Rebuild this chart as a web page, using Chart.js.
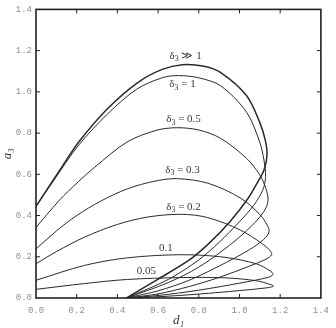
<!DOCTYPE html>
<html>
<head>
<meta charset="utf-8">
<script src="https://cdn.jsdelivr.net/npm/chart.js@4"></script>
<style>
  body { margin: 0; background: #fff; }
  #caixa { width: 336px; height: 328px; }
</style>
</head>
<body>
<div id="caixa"><canvas id="grafico" width="336" height="328"></canvas></div>
<script>
// curvas: d1 (x) e a3 (y), cada uma um laço fechado
const dMuito = [0, 0.08, 0.13, 0.21, 0.35, 0.5, 0.62, 0.72, 0.82, 0.908, 1.035, 1.099, 1.128, 1.135, 1.12, 1.085, 1.04, 0.956, 0.85, 0.75, 0.59, 0.445];
const aMuito = [0.445, 0.565, 0.64, 0.757, 0.917, 1.045, 1.109, 1.132, 1.125, 1.093, 0.981, 0.853, 0.76, 0.69, 0.62, 0.555, 0.48, 0.374, 0.265, 0.182, 0.086, 0];

const dUm = [0, 0.08, 0.21, 0.352, 0.495, 0.622, 0.7, 0.8, 0.908, 1.035, 1.099, 1.12, 1.128, 1.115, 1.07, 1.0, 0.9, 0.8, 0.65, 0.445];
const aUm = [0.445, 0.56, 0.742, 0.893, 1.013, 1.069, 1.079, 1.068, 1.029, 0.901, 0.757, 0.67, 0.59, 0.525, 0.45, 0.37, 0.27, 0.185, 0.09, 0];

const dMeio = [0, 0.111, 0.21, 0.289, 0.448, 0.59, 0.69, 0.8, 0.908, 1.035, 1.099, 1.13, 1.14, 1.12, 1.06, 0.95, 0.8, 0.65, 0.445];
const aMeio = [0.342, 0.47, 0.566, 0.635, 0.757, 0.813, 0.826, 0.815, 0.774, 0.677, 0.598, 0.53, 0.47, 0.42, 0.35, 0.255, 0.15, 0.075, 0];

const d03 = [0, 0.1, 0.2, 0.318, 0.45, 0.58, 0.69, 0.844, 1.003, 1.099, 1.138, 1.145, 1.12, 1.05, 0.9, 0.75, 0.6, 0.445];
const a03 = [0.238, 0.325, 0.4, 0.47, 0.53, 0.566, 0.579, 0.557, 0.486, 0.406, 0.35, 0.32, 0.285, 0.235, 0.155, 0.085, 0.035, 0];

const d02 = [0, 0.1, 0.238, 0.4, 0.55, 0.714, 0.844, 1.003, 1.114, 1.15, 1.158, 1.13, 1.05, 0.9, 0.75, 0.6, 0.445];
const a02 = [0.166, 0.225, 0.295, 0.357, 0.393, 0.406, 0.39, 0.33, 0.262, 0.23, 0.21, 0.188, 0.155, 0.1, 0.055, 0.02, 0];

const d01 = [0, 0.238, 0.45, 0.714, 0.924, 1.082, 1.15, 1.165, 1.14, 1.0, 0.8, 0.6, 0.445];
const a01 = [0.086, 0.158, 0.195, 0.21, 0.198, 0.166, 0.132, 0.115, 0.1, 0.072, 0.038, 0.012, 0];

const d005 = [0, 0.238, 0.45, 0.714, 0.924, 1.082, 1.15, 1.167, 1.14, 1.0, 0.8, 0.6, 0.445];
const a005 = [0.042, 0.07, 0.09, 0.099, 0.098, 0.084, 0.066, 0.058, 0.05, 0.036, 0.019, 0.006, 0];

// rótulos das curvas: texto antes do índice, índice, resto
const rotulos = [
  { base: "δ", sub: "3", resto: " ≫ 1", d: 0.735, a: 1.172 },
  { base: "δ", sub: "3", resto: " = 1", d: 0.72, a: 1.036 },
  { base: "δ", sub: "3", resto: " = 0.5", d: 0.725, a: 0.866 },
  { base: "δ", sub: "3", resto: " = 0.3", d: 0.72, a: 0.62 },
  { base: "δ", sub: "3", resto: " = 0.2", d: 0.725, a: 0.443 },
  { base: "0.1", sub: "", resto: "", d: 0.638, a: 0.242 },
  { base: "0.05", sub: "", resto: "", d: 0.543, a: 0.131 }
];

const ticksEixo = [0, 0.2, 0.4, 0.6, 0.8, 1.0, 1.2, 1.4];

function juntar(xs, ys) {
  return xs.map((x, i) => ({ x, y: ys[i] }));
}

function serie(xs, ys, largura) {
  return {
    data: juntar(xs, ys),
    showLine: true,
    borderColor: "#2a2a2a",
    borderWidth: largura,
    pointRadius: 0,
    tension: 0.32,
    fill: false
  };
}

const molduraPlugin = {
  id: "moldura",
  afterDatasetsDraw(chart) {
    const ctx = chart.ctx;
    const { left, right, top, bottom } = chart.chartArea;
    const sx = chart.scales.x;
    const sy = chart.scales.y;
    ctx.save();
    ctx.strokeStyle = "#222";
    ctx.lineWidth = 1.6;
    ctx.strokeRect(left, top, right - left, bottom - top);
    ctx.lineWidth = 1;
    ticksEixo.slice(1, -1).forEach(v => {
      const px = sx.getPixelForValue(v);
      ctx.beginPath();
      ctx.moveTo(px, bottom); ctx.lineTo(px, bottom - 4);
      ctx.moveTo(px, top); ctx.lineTo(px, top + 4);
      ctx.stroke();
      const py = sy.getPixelForValue(v);
      ctx.beginPath();
      ctx.moveTo(left, py); ctx.lineTo(left + 4, py);
      ctx.moveTo(right, py); ctx.lineTo(right - 4, py);
      ctx.stroke();
    });

    // rótulos
    ctx.fillStyle = "#3a3a3a";
    ctx.textBaseline = "middle";
    ctx.textAlign = "left";
    const fonte = "11px 'Liberation Serif', 'DejaVu Serif', serif";
    const fonteSub = "8px 'Liberation Serif', 'DejaVu Serif', serif";
    rotulos.forEach(r => {
      ctx.font = fonte;
      const w1 = ctx.measureText(r.base).width;
      const w3 = ctx.measureText(r.resto).width;
      ctx.font = fonteSub;
      const w2 = ctx.measureText(r.sub).width;
      const x0 = sx.getPixelForValue(r.d) - (w1 + w2 + w3) / 2;
      const y0 = sy.getPixelForValue(r.a);
      ctx.font = fonte;
      ctx.fillText(r.base, x0, y0);
      ctx.font = fonteSub;
      ctx.fillText(r.sub, x0 + w1, y0 + 3);
      ctx.font = fonte;
      ctx.fillText(r.resto, x0 + w1 + w2, y0);
    });
    ctx.restore();
  }
};

const fonteTicks = { family: "'Liberation Mono', 'DejaVu Sans Mono', monospace", size: 9 };
const fonteTitulo = { family: "'Liberation Serif', 'DejaVu Serif', serif", size: 13, style: "italic" };

new Chart(document.getElementById("grafico").getContext("2d"), {
  type: "scatter",
  data: {
    datasets: [
      serie(dMuito, aMuito, 1.5),
      serie(dUm, aUm, 1),
      serie(dMeio, aMeio, 1),
      serie(d03, a03, 1),
      serie(d02, a02, 1),
      serie(d01, a01, 1),
      serie(d005, a005, 1)
    ]
  },
  options: {
    responsive: false,
    animation: false,
    layout: { padding: { top: 6, right: 6, left: 0, bottom: 0 } },
    plugins: { legend: { display: false }, tooltip: { enabled: false } },
    scales: {
      x: {
        type: "linear",
        min: 0,
        max: 1.4,
        afterBuildTicks: s => { s.ticks = ticksEixo.map(v => ({ value: v })); },
        afterFit: s => { s.height = 30; },
        ticks: {
          callback: v => v.toFixed(1),
          font: fonteTicks,
          color: "#909090",
          padding: 7,
          maxRotation: 0
        },
        grid: { drawOnChartArea: false, drawTicks: false },
        border: { display: false },
        title: { display: true, text: "d₁", font: fonteTitulo, color: "#333", padding: 0 }
      },
      y: {
        type: "linear",
        min: 0,
        max: 1.4,
        afterBuildTicks: s => { s.ticks = ticksEixo.map(v => ({ value: v })); },
        afterFit: s => { s.width = 36; },
        ticks: {
          callback: v => v.toFixed(1),
          font: fonteTicks,
          color: "#909090",
          padding: 4
        },
        grid: { drawOnChartArea: false, drawTicks: false },
        border: { display: false },
        title: { display: true, text: "a₃", font: fonteTitulo, color: "#333", padding: 0 }
      }
    }
  },
  plugins: [molduraPlugin]
});
</script>
</body>
</html>
